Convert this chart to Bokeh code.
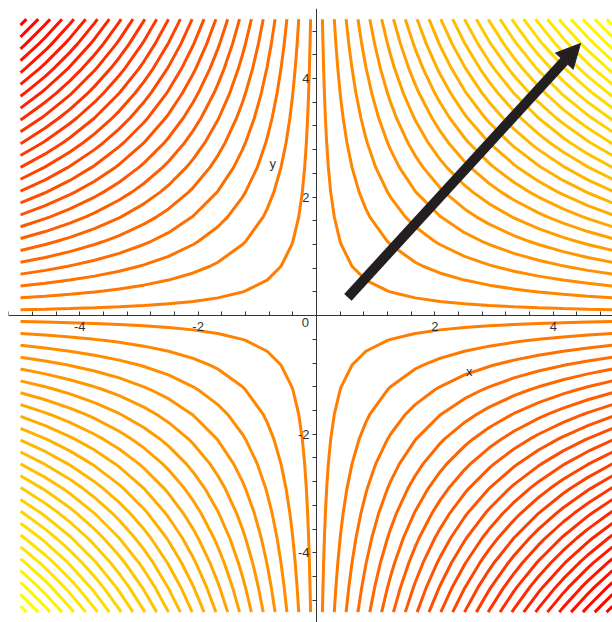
import numpy as np
from bokeh.plotting import figure
from bokeh.models import Arrow, NormalHead, FixedTicker, Label
from bokeh.embed import file_html
from bokeh.resources import INLINE

# contour levels of f(x, y) = x*y
levels = [-24.5, -23.5, -22.5, -21.5, -20.5, -19.5, -18.5, -17.5, -16.5, -15.5,
          -14.5, -13.5, -12.5, -11.5, -10.5, -9.5, -8.5, -7.5, -6.5, -5.5,
          -4.5, -3.5, -2.5, -1.5, -0.5, 0.5, 1.5, 2.5, 3.5, 4.5,
          5.5, 6.5, 7.5, 8.5, 9.5, 10.5, 11.5, 12.5, 13.5, 14.5,
          15.5, 16.5, 17.5, 18.5, 19.5, 20.5, 21.5, 22.5, 23.5, 24.5]
grid_x = np.linspace(-5, 5, 25)
grid_y = np.linspace(-5, 5, 25)
X, Y = np.meshgrid(grid_x, grid_y)
Z = X * Y

major_ticks = [-4, -2, 2, 4]
minor_ticks = [-5.2, -4.8, -4.4, -3.6, -3.2, -2.8, -2.4, -1.6, -1.2, -0.8, -0.4,
               0.4, 0.8, 1.2, 1.6, 2.4, 2.8, 3.2, 3.6, 4.4, 4.8, 5.2]
tick_labels = {-4: "-4", -2: "-2", 2: "2", 4: "4"}

arrow_start = (0.53, 0.31)
arrow_end = (4.46, 4.59)

# colours: red -> orange -> yellow
def lerp_color(t):
    g = int(round(255 * t))
    return "#%02x%02x%02x" % (255, g, 0)

n = len(levels)
colors = [lerp_color(i / (n - 1)) for i in range(n)]

p = figure(width=612, height=622, x_range=(-5.203, 5.0), y_range=(-5.175, 5.18),
           output_backend="svg", toolbar_location=None,
           min_border=0, min_border_left=8, min_border_top=8)
p.outline_line_color = None
p.grid.visible = False

p.contour(grid_x, grid_y, Z, levels, line_color=colors, line_width=3)

for ax in (p.xaxis[0], p.yaxis[0]):
    ax.fixed_location = 0
    ax.ticker = FixedTicker(ticks=major_ticks, minor_ticks=minor_ticks)
    ax.major_label_overrides = tick_labels
    ax.axis_line_color = "#333333"
    ax.major_tick_line_color = "#333333"
    ax.minor_tick_line_color = "#333333"
    ax.major_label_text_font = "Liberation Sans"
    ax.major_label_text_font_size = "13px"
    ax.major_label_text_color = "#333333"

p.xaxis.major_tick_in = 4
p.xaxis.major_tick_out = 0
p.xaxis.minor_tick_in = 4
p.xaxis.minor_tick_out = 0
p.xaxis.major_label_standoff = 6

p.yaxis.major_tick_in = 0
p.yaxis.major_tick_out = 4
p.yaxis.minor_tick_in = 0
p.yaxis.minor_tick_out = 4
p.yaxis.major_label_standoff = 3

p.add_layout(Label(x=-0.19, y=-0.12, text="0", text_align="center", text_baseline="middle",
                   text_font="Liberation Sans", text_font_size="13px", text_color="#333333"))
p.add_layout(Label(x=-0.74, y=2.56, text="y", text_align="center", text_baseline="middle",
                   text_font="Liberation Sans", text_font_size="13px", text_color="#333333"))
p.add_layout(Label(x=2.58, y=-0.94, text="x", text_align="center", text_baseline="middle",
                   text_font="Liberation Sans", text_font_size="13px", text_color="#333333"))

p.add_layout(Arrow(end=NormalHead(size=24, fill_color="#231f20", line_color="#231f20"),
                   x_start=arrow_start[0], y_start=arrow_start[1],
                   x_end=arrow_end[0], y_end=arrow_end[1],
                   line_width=10, line_color="#231f20"))

open("out.html", "w").write(file_html(p, INLINE))
